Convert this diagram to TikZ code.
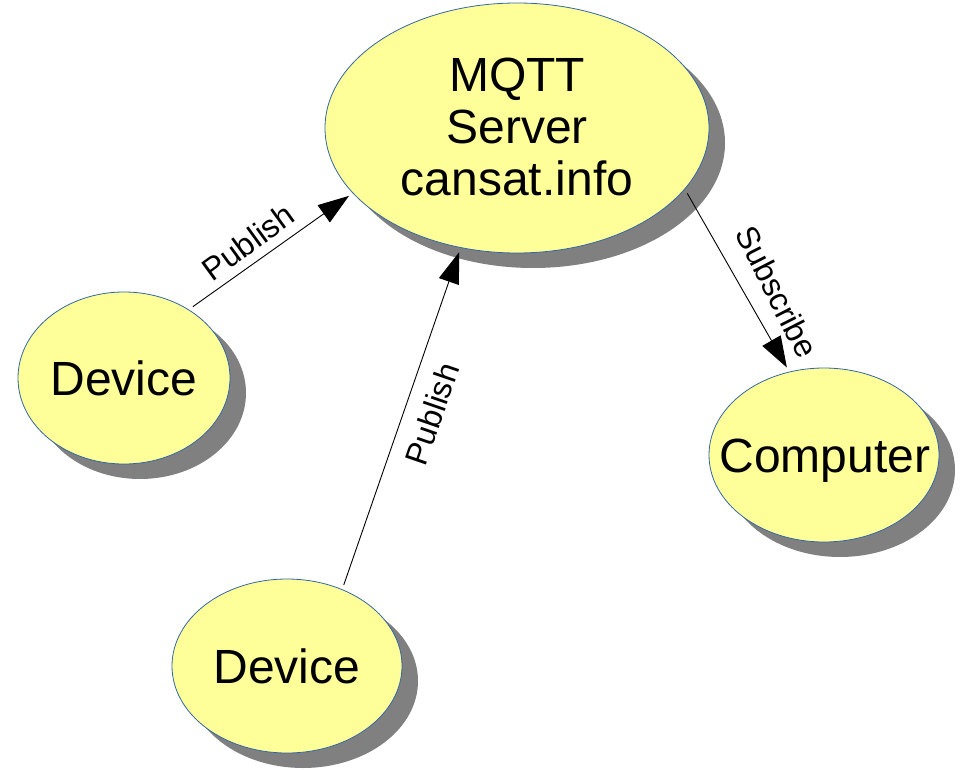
\documentclass[tikz,border=0pt]{standalone}
\usepackage{fontspec}
\setmainfont{Liberation Sans}
\usetikzlibrary{shapes.geometric,shadows,arrows.meta}
\definecolor{nodefill}{HTML}{FFFF99}
\definecolor{nodeline}{HTML}{3465A4}
\definecolor{shadowgray}{HTML}{808080}
\tikzset{
  bubble/.style={ellipse, draw=nodeline, line width=0.8pt, fill=nodefill, inner sep=0pt, outer sep=5pt,
    drop shadow={shadow xshift=16pt, shadow yshift=-15pt, fill=shadowgray, opacity=1}},
  bigtext/.style={font=\fontsize{48}{52}\selectfont, inner sep=0pt, align=center},
  lbl/.style={font=\fontsize{32}{36}\selectfont, inner sep=0pt},
  conn/.style={line width=0.9pt, -{Triangle[length=31pt,width=21pt]}}
}
\begin{document}
\begin{tikzpicture}[x=1pt,y=-1pt]
\useasboundingbox (0,0) rectangle (960,770);
% ellipses
\node[bubble, minimum width=384pt, minimum height=250pt] (server) at (517,128) {};
\node[bubble, minimum width=212pt, minimum height=172pt] (dev1) at (124,378) {};
\node[bubble, minimum width=230pt, minimum height=174pt] (dev2) at (287,666) {};
\node[bubble, minimum width=230pt, minimum height=174pt] (comp) at (824,455) {};
% texts
\node[bigtext] (servertext) at (517,127) {MQTT\\Server\\cansat.info};
\node[bigtext, anchor=base] (dev1text) at (124,395) {Device};
\node[bigtext, anchor=base] (dev2text) at (287,683) {Device};
\node[bigtext, anchor=base] (comptext) at (825,472) {Computer};
% connectors
\draw[conn] (dev1.46) -- (server.202);
\draw[conn] (dev2.55) -- (server.245);
\draw[conn] (server.-21) -- (comp.113);
% labels
\node[lbl, rotate=36] (pub1) at (248,242) {Publish};
\node[lbl, rotate=71] (pub2) at (432,414) {Publish};
\node[lbl, rotate=-63] (sub) at (777,292) {Subscribe};
\end{tikzpicture}
\end{document}
